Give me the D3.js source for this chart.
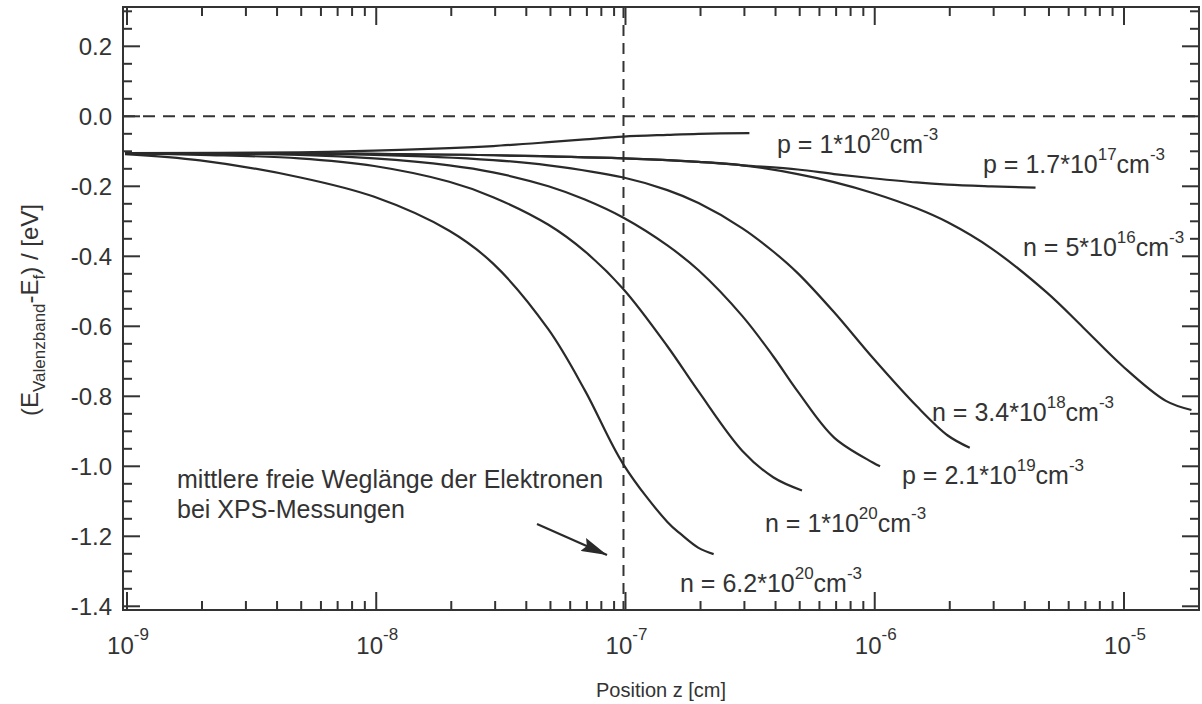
<!DOCTYPE html>
<html><head><meta charset="utf-8">
<script src="https://cdn.jsdelivr.net/npm/d3@7"></script>
<style>
body{margin:0;background:#fff}
text{font-family:"Liberation Sans",Arial,Helvetica,sans-serif;fill:#333}
</style>
</head><body>
<svg id="c" width="1202" height="704"></svg>
<script>
// ---- data (position z in cm, energy in eV) ----
const zA=[1e-9,2e-9,5e-9,1e-8,2e-8,3e-8,5e-8,7e-8,1e-7,1.5e-7,1.7e-7,2e-7,2.3e-7];
const eA=[-0.108,-0.126,-0.174,-0.23,-0.327,-0.421,-0.609,-0.783,-0.995,-1.159,-1.194,-1.233,-1.251];
const zB=[1e-9,2e-9,5e-9,1e-8,2e-8,3e-8,5e-8,7e-8,1e-7,1.5e-7,2e-7,3e-7,4e-7,5.2e-7];
const eB=[-0.105,-0.11,-0.12,-0.142,-0.187,-0.231,-0.31,-0.386,-0.494,-0.657,-0.786,-0.956,-1.032,-1.069];
const zC=[1e-9,5e-9,1e-8,2e-8,3e-8,5e-8,7e-8,1e-7,1.5e-7,2e-7,3e-7,4e-7,5e-7,7e-7,1e-6,1.07e-6];
const eC=[-0.105,-0.11,-0.12,-0.14,-0.16,-0.20,-0.238,-0.29,-0.369,-0.44,-0.571,-0.687,-0.786,-0.918,-0.989,-1.0];
const zD=[1e-9,1e-8,3e-8,5e-8,1e-7,1.5e-7,2e-7,3e-7,4e-7,5e-7,7e-7,1e-6,1.5e-6,2e-6,2.45e-6];
const eD=[-0.105,-0.11,-0.125,-0.14,-0.175,-0.211,-0.248,-0.32,-0.387,-0.448,-0.56,-0.69,-0.828,-0.912,-0.947];
const zE=[1e-9,1e-8,1e-7,2e-7,3e-7,5e-7,7e-7,1e-6,1.5e-6,2e-6,3e-6,5e-6,7e-6,1e-5,1.5e-5,1.9e-5];
const eE=[-0.105,-0.107,-0.12,-0.13,-0.14,-0.165,-0.188,-0.219,-0.263,-0.303,-0.378,-0.504,-0.604,-0.712,-0.813,-0.839];
const zF=[1e-9,1e-8,1e-7,2e-7,3e-7,5e-7,7e-7,1e-6,1.5e-6,2e-6,3e-6,4.5e-6];
const eF=[-0.105,-0.107,-0.12,-0.13,-0.14,-0.152,-0.165,-0.177,-0.189,-0.195,-0.2,-0.204];
const zG=[1e-9,5e-9,1e-8,2e-8,3e-8,5e-8,7e-8,1e-7,1.5e-7,2e-7,3.2e-7];
const eG=[-0.105,-0.103,-0.098,-0.091,-0.085,-0.074,-0.066,-0.058,-0.053,-0.05,-0.048];

const labelBase=["n = 6.2*10","n = 1*10","p = 2.1*10","n = 3.4*10","p = 1.7*10","n = 5*10","p = 1*10"];
const labelExp=["20","20","19","18","17","16","20"];
const xMajorExp=[-9,-8,-7,-6,-5];
const yMajor=[-1.4,-1.2,-1.0,-0.8,-0.6,-0.4,-0.2,0.0,0.2];
const annotation=["mittlere freie Weglänge der Elektronen","bei XPS-Messungen"];
const xpsDepth=1e-7;

// ---- layout ----
const L=123,R=1199,T=7,B=610;
const svg=d3.select("#c");
const x=d3.scaleLog().domain([Math.pow(10,-9.008),Math.pow(10,-4.691)]).range([L,R]);
const y=d3.scaleLinear().domain([-1.4106,0.3123]).range([B,T]);
const ink="#333";

// dashed reference lines
svg.append("line").attr("x1",L).attr("x2",R).attr("y1",y(0)).attr("y2",y(0))
  .attr("stroke",ink).attr("stroke-width",2).attr("stroke-dasharray","12,8");
svg.append("line").attr("x1",x(xpsDepth)).attr("x2",x(xpsDepth)).attr("y1",T).attr("y2",B)
  .attr("stroke",ink).attr("stroke-width",2).attr("stroke-dasharray","11,7");

// curves
const seriesZ=[zA,zB,zC,zD,zE,zF,zG], seriesE=[eA,eB,eC,eD,eE,eF,eG];
const line=d3.line().x(d=>x(d[0])).y(d=>y(d[1])).curve(d3.curveCatmullRom.alpha(0.5));
seriesZ.forEach((zs,i)=>{
  const pts=zs.map((z,j)=>[z,seriesE[i][j]]);
  svg.append("path").attr("d",line(pts)).attr("fill","none")
    .attr("stroke","#2a2a2a").attr("stroke-width",2.2).attr("stroke-linecap","butt");
});

// frame + ticks
svg.append("rect").attr("x",L).attr("y",T).attr("width",R-L).attr("height",B-T)
  .attr("fill","none").attr("stroke",ink).attr("stroke-width",2);
const tg=svg.append("g").attr("stroke",ink).attr("stroke-width",2);
const xMinor=[];
xMajorExp.forEach(e=>{for(let k=2;k<=9;k++){const v=k*Math.pow(10,e); if(v<=x.domain()[1]) xMinor.push(v);}});
xMajorExp.forEach(e=>{const px=x(Math.pow(10,e))+2;
  tg.append("line").attr("x1",px).attr("x2",px).attr("y1",B).attr("y2",B-18);
  tg.append("line").attr("x1",px).attr("x2",px).attr("y1",T).attr("y2",T+18);});
xMinor.forEach(v=>{const px=x(v)+2;
  tg.append("line").attr("x1",px).attr("x2",px).attr("y1",B).attr("y2",B-9);
  tg.append("line").attr("x1",px).attr("x2",px).attr("y1",T).attr("y2",T+9);});
d3.range(-28,7).map(i=>i*0.05).forEach(v=>{
  const major=Math.abs(Math.round(v*10)%2)===0 && Math.abs(v*10-Math.round(v*10))<1e-6;
  const len=major?17:9, py=y(v);
  tg.append("line").attr("x1",L).attr("x2",L+len).attr("y1",py).attr("y2",py);
  tg.append("line").attr("x1",R).attr("x2",R-len).attr("y1",py).attr("y2",py);
});

// tick labels
const fmt=v=>{const s=Math.abs(v)<1e-9?"0.0":v.toFixed(1);return s;};
yMajor.forEach(v=>{
  svg.append("text").attr("x",L-11).attr("y",y(v)).attr("dy","0.36em")
    .attr("text-anchor","end").attr("font-size",24).text(fmt(v));
});
xMajorExp.forEach(e=>{
  const t=svg.append("text").attr("x",x(Math.pow(10,e))+3).attr("y",B+44)
    .attr("text-anchor","middle").attr("font-size",24);
  t.append("tspan").text("10");
  t.append("tspan").attr("dy",-14).attr("font-size",17).text(String(e));
});

// axis titles
svg.append("text").attr("x",661).attr("y",697).attr("text-anchor","middle")
  .attr("font-size",20).text("Position z [cm]");
const yt=svg.append("text").attr("transform","translate(38,310) rotate(-90)")
  .attr("text-anchor","middle").attr("font-size",24);
yt.append("tspan").text("(E");
yt.append("tspan").attr("dy",7).attr("font-size",17).text("Valenzband");
yt.append("tspan").attr("dy",-7).text("-E");
yt.append("tspan").attr("dy",7).attr("font-size",17).text("f");
yt.append("tspan").attr("dy",-7).text(") / [eV]");

// series labels
const labelPos=[[680,592],[765,532],[902,484],[932,421],[983,173],[1023,256],[777,153]];
labelBase.forEach((b,i)=>{
  const t=svg.append("text").attr("x",labelPos[i][0]).attr("y",labelPos[i][1]).attr("font-size",25);
  t.append("tspan").text(b);
  t.append("tspan").attr("dy",-13).attr("font-size",17).text(labelExp[i]);
  t.append("tspan").attr("dy",13).text("cm");
  t.append("tspan").attr("dy",-13).attr("font-size",17).text("-3");
});

// annotation + arrow
svg.append("text").attr("x",177).attr("y",488).attr("font-size",25).text(annotation[0]);
svg.append("text").attr("x",177).attr("y",518).attr("font-size",25).text(annotation[1]);
svg.append("defs").append("marker").attr("id","ah").attr("viewBox","0 0 26 14")
  .attr("refX",26).attr("refY",7).attr("markerWidth",26).attr("markerHeight",14)
  .attr("markerUnits","userSpaceOnUse").attr("orient","auto")
  .append("path").attr("d","M0,0 L26,7 L0,14 L4,7 Z").attr("fill","#2a2a2a");
svg.append("line").attr("x1",537).attr("y1",524).attr("x2",607).attr("y2",555)
  .attr("stroke","#2a2a2a").attr("stroke-width",2.2).attr("marker-end","url(#ah)");
</script>
</body></html>
